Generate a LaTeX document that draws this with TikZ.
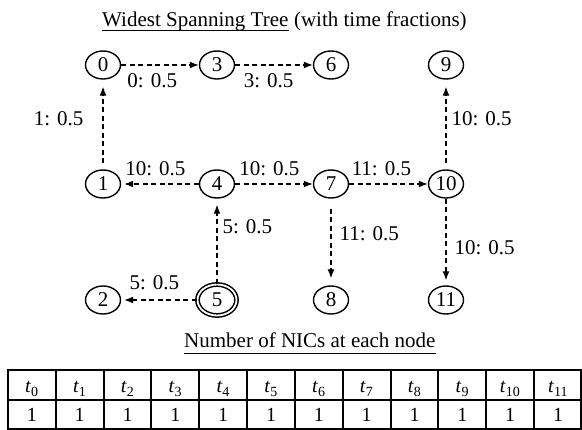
\documentclass[tikz,border=0pt]{standalone}
\usepackage{fontspec}
\setmainfont{Liberation Serif}
\usetikzlibrary{arrows.meta,shapes.geometric}

\begin{document}
\begin{tikzpicture}[x=1pt,y=-1pt,
    every node/.style={font=\fontsize{21}{25}\selectfont},
    vtx/.style={ellipse,draw,line width=1.4pt,minimum width=35pt,minimum height=28pt,inner sep=0pt},
    src/.style={vtx,double,double distance=1.8pt,line width=1.5pt,minimum width=39pt,minimum height=31pt},
    arc/.style={->,line width=1.3pt,dash pattern=on 5pt off 3.5pt},
    lbl/.style={inner sep=0pt},
    cell/.style={anchor=base,inner sep=0pt,font=\fontsize{20}{24}\selectfont},
    >={Latex[length=9pt,width=7pt]}]
    \useasboundingbox (0,0) rectangle (582,430);

    % titles
    \node [anchor=base west,inner sep=0pt] (ttl) at (102,26.7) {Widest Spanning Tree};
    \node [anchor=base west,inner sep=0pt] (ttlb) at ([xshift=5.25pt]ttl.base east) {(with time fractions)};
    \draw [line width=1pt] ([yshift=-4.3pt]ttl.base west)--([yshift=-4.3pt]ttl.base east);

    % tree
    \node [vtx] (N0) at (103,65) {0};
    \node [vtx] (N3) at (217,65) {3};
    \node [vtx] (N6) at (331,65) {6};
    \node [vtx] (N9) at (446,65) {9};
    \node [vtx] (N1) at (103,184) {1};
    \node [vtx] (N4) at (217,184) {4};
    \node [vtx] (N7) at (331,184) {7};
    \node [vtx] (N10) at (446,184) {10};
    \node [vtx] (N2) at (103,300) {2};
    \node [src] (N5) at (217,300) {5};
    \node [vtx] (N8) at (331,300) {8};
    \node [vtx] (N11) at (446,300) {11};

    \draw [arc] (N0)--(N3) node[lbl,below=8pt,pos=0.4]{0: 0.5};
    \draw [arc] (N3)--(N6) node[lbl,below=8pt,pos=0.43]{3: 0.5};
    \draw [arc,shorten <=6pt,shorten >=7pt] (N1)--(N0) node[lbl,left=19pt,pos=0.57]{1: 0.5};
    \draw [arc,shorten <=6pt,shorten >=7pt] (N10)--(N9) node[lbl,right=5pt,pos=0.57]{10: 0.5};
    \draw [arc,shorten >=3pt] (N4)--(N1) node[lbl,above=8pt,pos=0.56]{10: 0.5};
    \draw [arc] (N4)--(N7) node[lbl,above=8pt,pos=0.44]{10: 0.5};
    \draw [arc] (N7)--(N10) node[lbl,above=8pt,pos=0.41]{11: 0.5};
    \draw [arc,shorten >=6pt] (N5)--(N4) node[lbl,right=5pt,pos=0.67]{5: 0.5};
    \draw [arc,shorten <=10pt,shorten >=7pt] (N7)--(N8) node[lbl,right=8pt,pos=0.4]{11: 0.5};
    \draw [arc,shorten >=5pt] (N10)--(N11) node[lbl,right=8pt,pos=0.57]{10: 0.5};
    \draw [arc,shorten >=3pt] (N5)--(N2) node[lbl,above=10pt,pos=0.56]{5: 0.5};

    % table
    \node [anchor=base west,inner sep=0pt] (nic) at (184,348) {Number of NICs at each node};
    \draw [line width=1pt] ([yshift=-5.7pt]nic.base west)--([yshift=-5.7pt]nic.base east);
    \draw [line width=2pt] (8,370) rectangle (581,429);
    \draw [line width=2pt] (8,400)--(581,400);
    \foreach \i in {1,...,11}
        \draw [line width=2pt] ({8+47.83*\i},370)--({8+47.83*\i},429);
    \foreach \i in {0,...,11} {
        \node [cell] (T\i) at ({8+47.83*(\i+0.5)},393) {\textit{t}\textsubscript{\i}};
        \node [cell] (V\i) at ({8+47.83*(\i+0.5)},421.5) {1};
    }
\end{tikzpicture}
\end{document}
